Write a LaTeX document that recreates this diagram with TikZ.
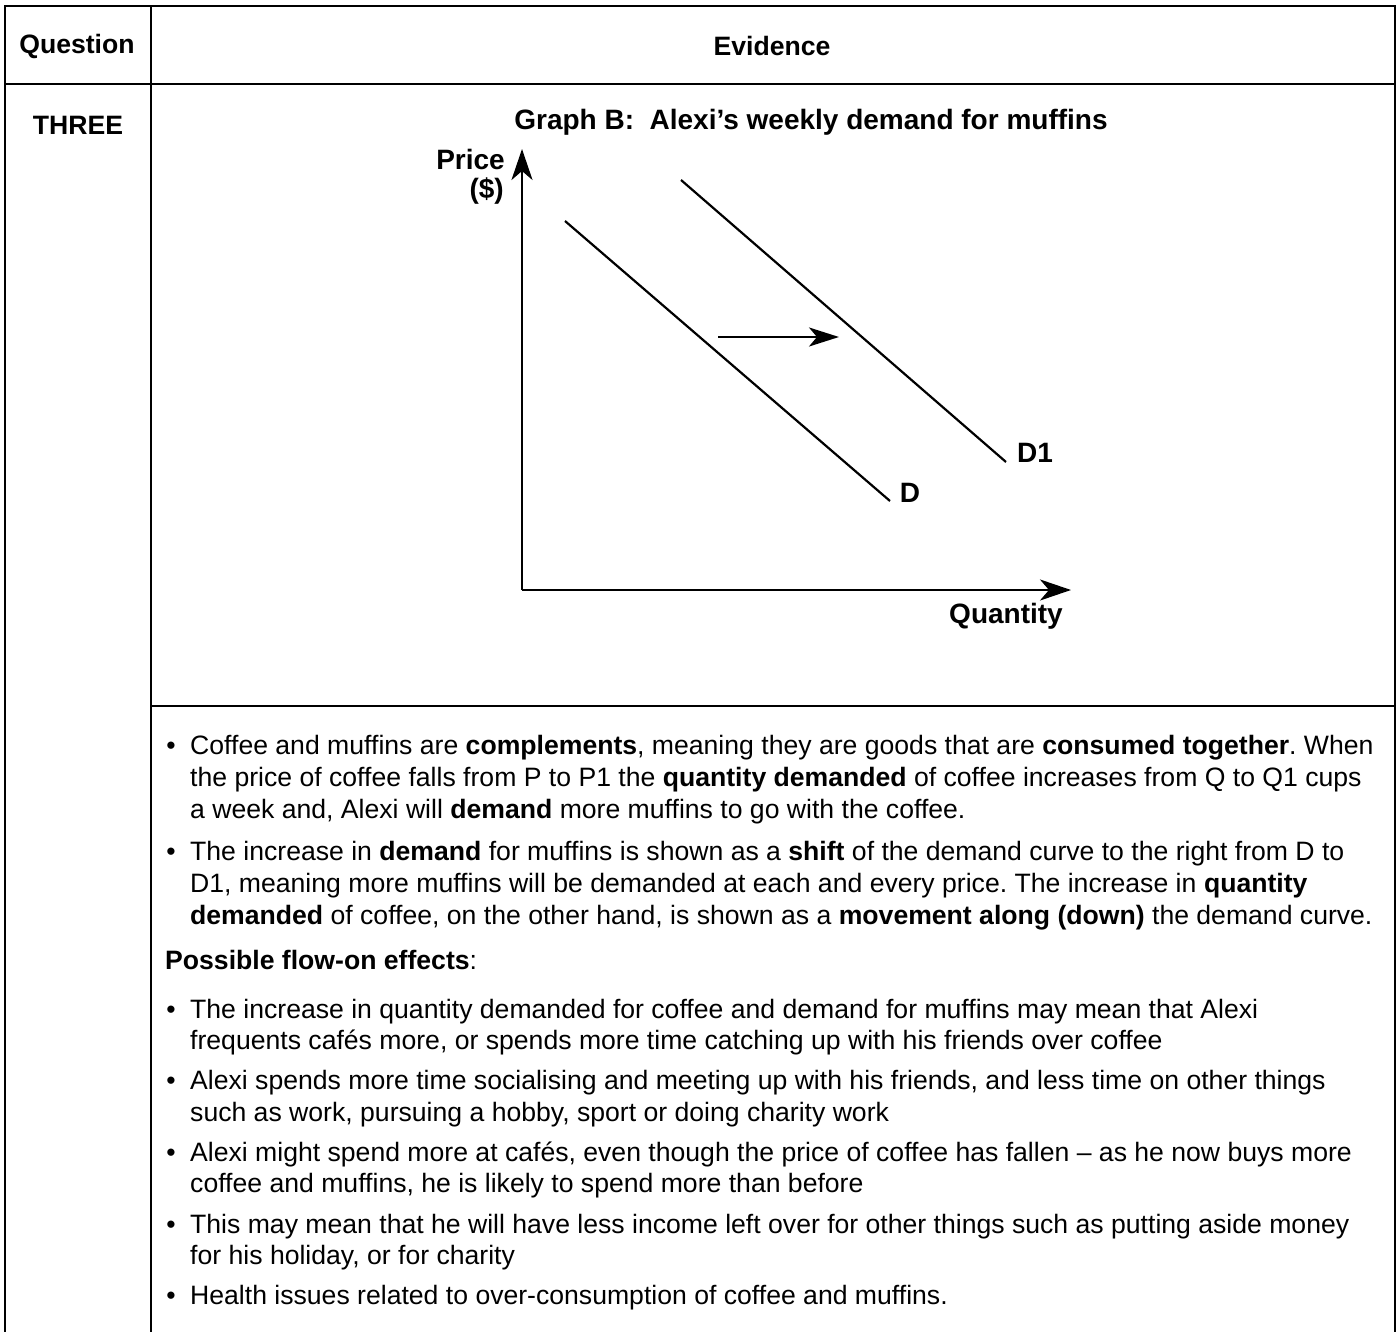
\documentclass[tikz,border=0pt]{standalone}
\usepackage{fontspec}
\setmainfont{Liberation Sans}
\usetikzlibrary{arrows.meta}
\frenchspacing
\tikzset{
  grid/.style={line width=2.6pt, black},
  axis/.style={line width=2.6pt, -{Stealth[length=31pt,width=21pt,inset=9pt]}},
  curve/.style={line width=2.2pt},
  hd/.style={font=\fontsize{26.6}{30}\selectfont\bfseries, inner sep=0pt},
  lbl/.style={font=\fontsize{28}{32}\selectfont\bfseries, inner sep=0pt},
  tx/.style={font=\fontsize{26.6}{30}\selectfont, inner sep=0pt, anchor=base west},
  bul/.style={font=\fontsize{26.6}{30}\selectfont, inner sep=0pt, anchor=base},
}
\begin{document}
\begin{tikzpicture}[x=1pt,y=-1pt]
\useasboundingbox (0,0) rectangle (1398,1332);
\fill[white] (0,0) rectangle (1398,1332);
% table
\coordinate (tl) at (5,6);
\coordinate (tr) at (1395,6);
\coordinate (bl) at (5,1340);
\coordinate (br) at (1395,1340);
\coordinate (ct) at (151,6);
\coordinate (cb) at (151,1340);
\coordinate (hl) at (5,84);
\coordinate (hr) at (1395,84);
\coordinate (rl) at (151,706);
\coordinate (rr) at (1395,706);
\draw[grid] (bl) -- (tl) -- (tr) -- (br);
\draw[grid] (ct) -- (cb);
\draw[grid] (hl) -- (hr);
\draw[grid] (rl) -- (rr);
% headers
\node[hd] (hq) at (77,46) {Question};
\node[hd] (he) at (772,46) {Evidence};
\node[hd] (h3) at (78,125) {THREE};
% graph
\node[lbl] (title) at (811,122) {Graph B:\ \ Alexi’s weekly demand for muffins};
\coordinate (O) at (522,590);
\coordinate (ytip) at (522,149);
\coordinate (xtip) at (1071,590);
\draw[axis] (O) -- (ytip);
\draw[axis] (O) -- (xtip);
\node[lbl, anchor=east] (price) at (505,159) {Price};
\node[lbl, anchor=east] (dollar) at (504,191) {(\$)};
\node[lbl] (qty) at (1006,616) {Quantity};
\coordinate (Da) at (565,221);
\coordinate (Db) at (890,501);
\coordinate (D1a) at (681,180);
\coordinate (D1b) at (1006,462);
\draw[curve] (Da) -- (Db);
\draw[curve] (D1a) -- (D1b);
\node[lbl] (Dl) at (910,493) {D};
\node[lbl] (D1l) at (1035,453) {D1};
\coordinate (sa) at (718,337);
\coordinate (sb) at (839,337);
\draw[line width=2.4pt, -{Stealth[length=30pt,width=19pt,inset=8pt]}] (sa) -- (sb);
% text
\node[bul] (b1) at (171,754) {•};
\node[tx] (t11) at (190,754) {Coffee and muffins are \textbf{complements}, meaning they are goods that are \textbf{consumed together}. When};
\node[tx] (t12) at (190,786) {the price of coffee falls from P to P1 the \textbf{quantity demanded} of coffee increases from Q to Q1 cups};
\node[tx] (t13) at (190,818) {a week and, Alexi will \textbf{demand} more muffins to go with the coffee.};
\node[bul] (b2) at (171,860) {•};
\node[tx] (t21) at (190,860) {The increase in \textbf{demand} for muffins is shown as a \textbf{shift} of the demand curve to the right from D to};
\node[tx] (t22) at (190,892) {D1, meaning more muffins will be demanded at each and every price. The increase in \textbf{quantity}};
\node[tx] (t23) at (190,924) {\textbf{demanded} of coffee, on the other hand, is shown as a \textbf{movement along (down)} the demand curve.};
\node[tx] (pf) at (165,969) {\textbf{Possible flow-on effects}:};
\node[bul] (b3) at (171,1018) {•};
\node[tx] (t31) at (190,1018) {The increase in quantity demanded for coffee and demand for muffins may mean that Alexi};
\node[tx] (t32) at (190,1049) {frequents cafés more, or spends more time catching up with his friends over coffee};
\node[bul] (b4) at (171,1089) {•};
\node[tx] (t41) at (190,1089) {Alexi spends more time socialising and meeting up with his friends, and less time on other things};
\node[tx] (t42) at (190,1121) {such as work, pursuing a hobby, sport or doing charity work};
\node[bul] (b5) at (171,1161) {•};
\node[tx] (t51) at (190,1161) {Alexi might spend more at cafés, even though the price of coffee has fallen – as he now buys more};
\node[tx] (t52) at (190,1192) {coffee and muffins, he is likely to spend more than before};
\node[bul] (b6) at (171,1233) {•};
\node[tx] (t61) at (190,1233) {This may mean that he will have less income left over for other things such as putting aside money};
\node[tx] (t62) at (190,1264) {for his holiday, or for charity};
\node[bul] (b7) at (171,1304) {•};
\node[tx] (t71) at (190,1304) {Health issues related to over-consumption of coffee and muffins.};
\end{tikzpicture}
\end{document}
